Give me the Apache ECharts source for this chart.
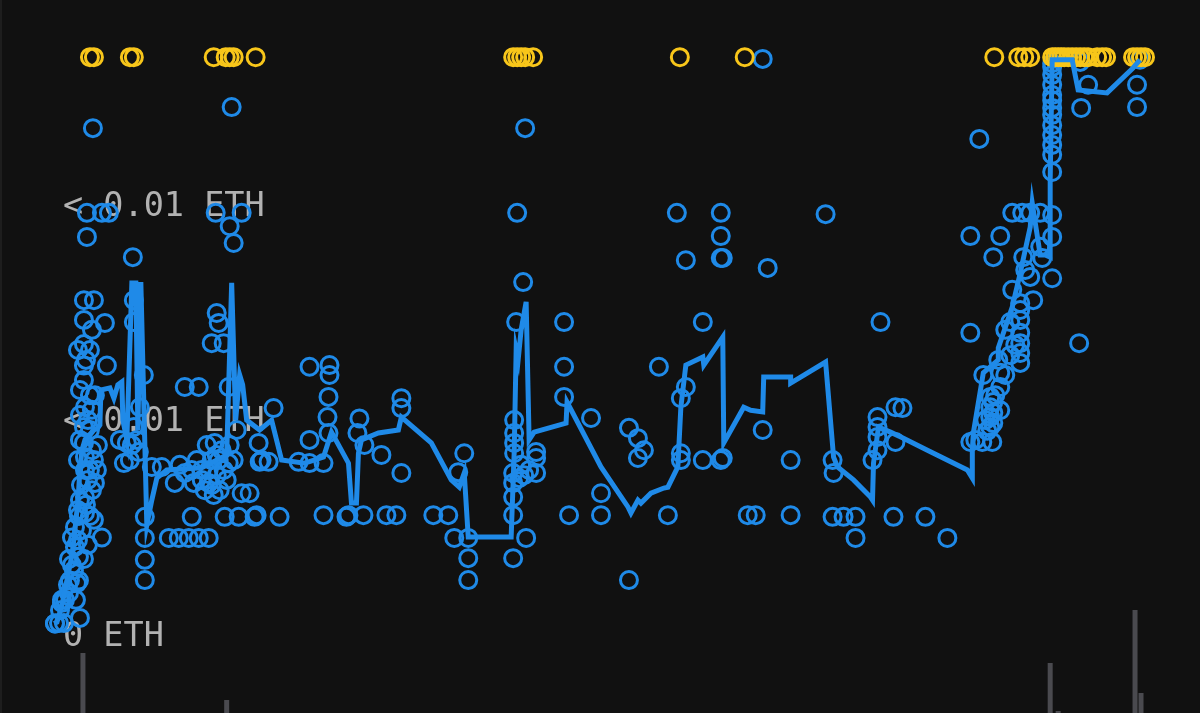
<!DOCTYPE html>
<html>
<head>
<meta charset="utf-8">
<script src="https://cdn.jsdelivr.net/npm/echarts@6/dist/echarts.min.js"></script>
<style>
html,body{margin:0;padding:0;background:#111111;}
#chart{width:1200px;height:713px;box-sizing:border-box;border-left:2px solid #1e1e1e;}
</style>
</head>
<body>
<div id="chart"></div>
<script>
// time index of each sale (x) and price in ETH (y)
const sales = [
[3,0],[7,0.00001],[3,0],[12,0.00001],[8,0.00031],[10,0.00048],[10,0.00055],[28,0.00013],[17,0.00071],[18,0.001],[27,0.001],[22,0.00124],[25,0.00094],
[17,0.0015],[27,0.00155],[32,0.0015],[23,0.00178],[20,0.002],[50,0.002],[23,0.00224],[27,0.0025],[38,0.0025],[33,0.00257],[33,0.00294],[28,0.00287],
[43,0.00327],[33,0.00357],[38,0.00357],[33,0.00387],[40,0.00403],[32,0.0042],[28,0.00427],[38,0.0045],[32,0.00457],[40,0.00497],[33,0.00503],
[28,0.00543],[38,0.00531],[32,0.00566],[32,0.006],[55,0.006],[26,0.00636],[38,0.00636],[32,0.0065],[40,0.00683],[32,0.00706],[53,0.00699],
[32,0.00752],[42,0.00752],[35,0.00899],[35,0.00955],[50,0.00955],[57,0.00955],[41,0.01152],
[26,0.0038],[36,0.00334],[29,0.00322],[40,0.0031],[34,0.00276],[26,0.00264],[42,0.00241],[30,0.00217],[36,0.00183],[26,0.00194],
[20,0.00136],[16,0.0009],[13,0.00055],[24,0.00055],[36,0.00473],[28,0.00485],[42,0.0038],[46,0.00415],[45,0.00357],[34,0.00613],[43,0.00531],
[72,0.00373],[75,0.0042],[80,0.00415],[82,0.00457],[87,0.00399],[88,0.00503],[92,0.00578],[81,0.00852],[82,0.00752],[82,0.00701],
[68,0.00427],[78,0.0038],[85,0.00427],
[93,0.00248],[93,0.00199],[93,0.00148],[93,0.00101],[100,0.00364],[110,0.00364],[117,0.00199],[127,0.00199],[137,0.00199],[147,0.00199],[157,0.00199],
[123,0.00327],[133,0.0035],[142,0.00327],[140,0.00248],[173,0.00248],[187,0.00248],[203,0.00248],[228,0.00248],[190,0.00303],[198,0.00303],
[157,0.00357],[167,0.0038],[157,0.00327],[163,0.0042],[153,0.0031],[185,0.0045],[207,0.0042],[208,0.00376],[217,0.00376],[177,0.00373],
[160,0.0038],[165,0.00345],[170,0.00403],[175,0.00334],[162,0.00299],[150,0.00357],[145,0.0038],[128,0.00369],
[155,0.00415],[165,0.00392],[172,0.00357],[160,0.00322],[168,0.0031],[178,0.00415],[182,0.0038],[150,0.00334],[140,0.00357],
[133,0.0055],[147,0.0055],[177,0.0055],[165,0.00722],[167,0.00699],[160,0.00652],[172,0.00652],[222,0.00501],
[164,0.00955],[190,0.00955],[178,0.00924],[182,0.00885],[180,0.01201],
[258,0.00597],[278,0.00601],[278,0.00578],[277,0.00527],[276,0.0048],[308,0.00477],[306,0.00443],[258,0.00427],[277,0.00443],
[210,0.0038],[247,0.00376],[258,0.00373],[272,0.00373],[313,0.00415],[330,0.00392],[350,0.00524],[350,0.00501],[350,0.0035],
[413,0.00396],[407,0.00352],[205,0.00252],[272,0.00252],[297,0.00252],[295,0.00248],[312,0.00252],[335,0.00252],[345,0.00252],
[382,0.00252],[397,0.00252],[403,0.00199],[417,0.00199],[417,0.00152],[417,0.00101],
[463,0.00473],[463,0.00443],[463,0.0042],[463,0.00396],[462,0.0035],[462,0.00327],[462,0.00294],[462,0.00252],[462,0.00152],
[475,0.00199],[485,0.00399],[485,0.00385],[485,0.0035],[473,0.00345],[468,0.00338],[478,0.00357],[470,0.00369],
[513,0.00597],[513,0.00527],[540,0.00478],[578,0.00455],[587,0.00431],[593,0.00403],[587,0.00385],[550,0.00303],[518,0.00252],
[550,0.00252],[578,0.00101],[608,0.00597],[635,0.0055],[630,0.00524],[630,0.00396],[630,0.0038],[652,0.0038],[672,0.00385],
[670,0.0038],[617,0.00252],[697,0.00252],[472,0.00794],[465,0.00701],[513,0.00701],[635,0.00845],[672,0.0085],[717,0.00827],
[652,0.00701],[712,0.0045],[740,0.0038],[466,0.00955],[474,0.01152],[626,0.00955],[670,0.00955],[670,0.00901],[670,0.0085],
[775,0.00952],[712,0.01313],
[740,0.00252],[705,0.00252],[782,0.00248],[793,0.00248],[805,0.00248],[805,0.00199],[843,0.00248],[875,0.00248],[897,0.00199],
[782,0.0038],[783,0.0035],[830,0.00701],[845,0.00503],[852,0.00501],[827,0.0048],[827,0.00457],[827,0.00434],[827,0.00403],
[822,0.0038],[845,0.00422],[920,0.00676],[1029,0.00652],[933,0.00578],[920,0.00422],[932,0.00422],[942,0.00422],[943,0.00466],
[943,0.0049],[943,0.00515],[950,0.0055],[940,0.00527],[940,0.00503],[940,0.0048],[940,0.00457],[950,0.00583],[948,0.00613],
[925,0.00427],[937,0.00448],[935,0.00473],[945,0.00531],[955,0.00578],[960,0.00624],[965,0.00648],[950,0.00496],
[962,0.00776],[983,0.00752],[970,0.00745],[970,0.00729],[970,0.00706],[960,0.00701],[970,0.00676],[970,0.00652],[970,0.00629],
[970,0.00606],[955,0.00683],[980,0.00806],[1002,0.00803],[973,0.00852],[975,0.00822],[992,0.0085],[990,0.00876],[943,0.00852],
[962,0.00955],[972,0.00955],[980,0.00955],[990,0.00955],[1002,0.0095],[920,0.00901],[950,0.00901],[1002,0.00899],[929,0.01127],
[1002,0.01294],[1002,0.01276],[1002,0.01253],[1002,0.01229],[1002,0.01217],[1002,0.01199],[1002,0.01183],[1002,0.01159],
[1002,0.01136],[1002,0.01113],[1002,0.0109],[1002,0.0105],[1031,0.01199],[1038,0.01253],[1087,0.01253],[1087,0.01201],
[1030,0.01306],[1090,0.01311],[1002,0.01303]
];

// sales priced above the axis range, pinned at the top edge
const capPrice = 0.01317;
const aboveRangeX = [38,42,78,82,162,174,178,182,204,462,466,470,474,482,629,694,944,968,974,980,
  1002,1005,1008,1011,1014,1018,1022,1026,1030,1034,1038,1047,1052,1056,1083,1087,1091,1095];

// floor price line
const floorLine = [
[2,0],[5,0.00003],[10,0.00043],[13,0.00078],[16,0.00113],[20,0.00159],[23,0.00217],[26,0.00287],[28,0.00357],[30,0.00403],
[33,0.00427],[38,0.00438],[42,0.0045],[46,0.00455],[48,0.00462],[49,0.00543],[58,0.00548],[62,0.00524],[66,0.00555],[70,0.00562],
[71,0.00473],[75,0.00427],[80,0.00792],[84,0.00792],[86,0.0045],[89,0.00794],[91,0.00794],[95,0.00229],[100,0.00287],[105,0.00338],
[115,0.00357],[150,0.00362],[175,0.00392],[180,0.00792],[182,0.00792],[184,0.00473],[188,0.00578],[191,0.00555],[195,0.00473],
[208,0.0045],[220,0.00473],[230,0.0038],[253,0.00373],[272,0.00387],[280,0.00445],[297,0.00373],[300,0.0028],[305,0.0028],
[307,0.00396],[310,0.00427],[327,0.00443],[347,0.0045],[350,0.0048],[380,0.0042],[400,0.00334],[408,0.00317],[413,0.0035],
[417,0.00201],[460,0.00201],[463,0.00396],[465,0.00636],[467,0.00613],[470,0.00683],[475,0.00748],[478,0.00427],[483,0.00445],
[515,0.00466],[516,0.00515],[550,0.00364],[577,0.00271],[580,0.00257],[587,0.00287],[590,0.0028],[600,0.00303],[613,0.00315],
[617,0.00317],[627,0.00364],[630,0.00503],[635,0.00601],[652,0.0062],[653,0.00601],[672,0.00666],[673,0.0042],[693,0.00503],
[700,0.00496],[712,0.00492],[713,0.00573],[740,0.00573],[740,0.00559],[750,0.00573],[775,0.00608],[783,0.00387],[787,0.00364],
[803,0.00334],[820,0.00294],[822,0.00287],[823,0.00373],[828,0.00457],[840,0.00445],[853,0.00431],[877,0.00403],[917,0.00357],
[922,0.00338],[922,0.00403],[923,0.00443],[933,0.00583],[948,0.00613],[948,0.00641],[962,0.00736],[970,0.00815],[980,0.00922],
[982,0.00978],[990,0.00857],[995,0.00857],[1000,0.00852],[1000,0.01031],[1002,0.01311],[1022,0.01311],[1028,0.01241],
[1057,0.01234],[1083,0.01292],[1090,0.01311]
];

// volume bars
const volumeX = [31,175,1000,1008,1085,1091];
const volumeV = [60,13,50,2,103,20];

const yTickLabels = ['0 ETH','< 0.01 ETH','< 0.01 ETH'];

const BLUE = '#1f8ae8';
const YELLOW = '#f8c61a';

const chart = echarts.init(document.getElementById('chart'), null, {renderer:'canvas'});
chart.setOption({
  backgroundColor: '#111111',
  animation: false,
  grid: [
    {left: 50, right: 50, top: 43, bottom: 89.5},
    {left: 50, right: 50, top: 603, bottom: 0}
  ],
  xAxis: [
    {type:'value', gridIndex:0, min:0, max:1100, show:false},
    {type:'value', gridIndex:1, min:0, max:1100, show:false}
  ],
  yAxis: [
    {type:'value', gridIndex:0, min:0, max:0.0135, interval:0.005,
     axisLine:{show:false}, axisTick:{show:false}, splitLine:{show:false},
     axisLabel:{inside:true, margin:11, showMaxLabel:false,
       fontFamily:'DejaVu Sans Mono', fontSize:33.5, color:'#b2b2b2',
       verticalAlign:'top', lineHeight:28,
       formatter: function(v){ const i = Math.round(v/0.005); return (i < yTickLabels.length && Math.abs(v - i*0.005) < 1e-9) ? yTickLabels[i] : ''; }
     }},
    {type:'value', gridIndex:1, min:0, max:110, show:false}
  ],
  series: [
    {type:'bar', xAxisIndex:1, yAxisIndex:1, barWidth:5,
     itemStyle:{color:'#4a4a4f'},
     data: volumeX.map((x,i)=>[x, volumeV[i]])},
    {type:'scatter', xAxisIndex:0, yAxisIndex:0, symbol:'circle', symbolSize:17, z:3,
     itemStyle:{color:'rgba(0,0,0,0)', borderColor:BLUE, borderWidth:3, opacity:1},
     data: sales},
    {type:'scatter', xAxisIndex:0, yAxisIndex:0, symbol:'circle', symbolSize:17, z:4,
     itemStyle:{color:'rgba(0,0,0,0)', borderColor:YELLOW, borderWidth:3, opacity:1},
     data: aboveRangeX.map(x=>[x, capPrice])},
    {type:'line', xAxisIndex:0, yAxisIndex:0, showSymbol:false, symbol:'none', z:5,
     lineStyle:{color:BLUE, width:5, join:'miter'},
     data: floorLine}
  ]
});
</script>
</body>
</html>
